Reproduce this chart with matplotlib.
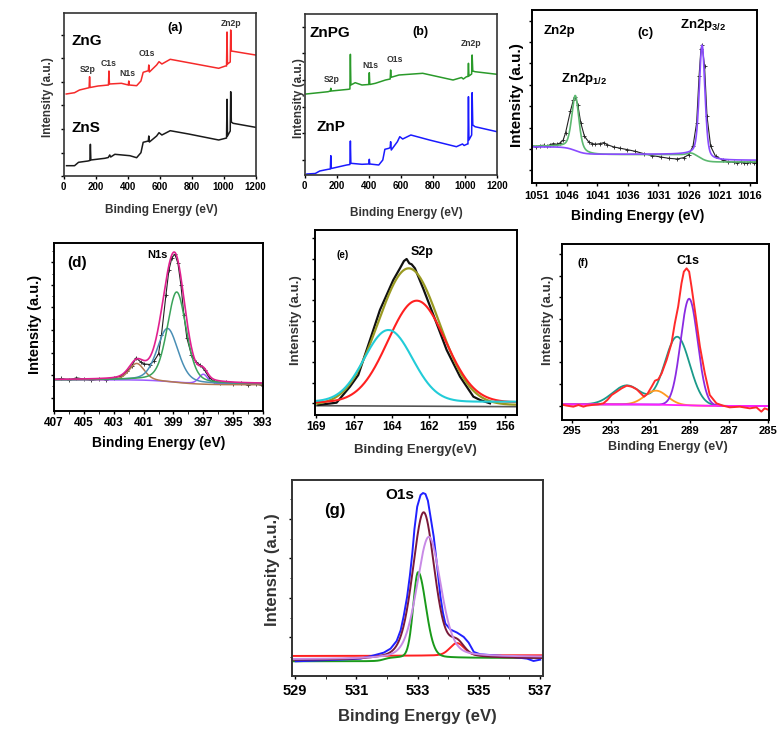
import numpy as np
import matplotlib

matplotlib.use("Agg")
import matplotlib.pyplot as plt
from matplotlib.ticker import MultipleLocator, FixedLocator, FormatStrFormatter

plt.rcParams['font.family'] = ['Liberation Sans', 'DejaVu Sans']
plt.rcParams['font.weight'] = 'bold'
plt.rcParams['mathtext.fontset'] = 'custom'
plt.rcParams['mathtext.bf'] = 'Liberation Sans:bold'
plt.rcParams['mathtext.rm'] = 'Liberation Sans:bold'

# ---------------- (a) survey ZnG / ZnS ----------------
ZNG_EV = [17, 69, 100, 160, 163, 166, 216, 281, 284, 287, 362, 405, 408, 411, 457, 484, 498,
          530, 533, 537, 582, 597, 615, 667, 782, 970, 1012, 1019, 1022, 1025, 1042, 1045,
          1049, 1075, 1200]
ZNG_I = [82, 83.3, 86, 88.3, 99.3, 88.5, 90, 91, 105, 92, 92.7, 91, 95, 91, 90.3, 95, 103.7,
         105.3, 111, 104, 111, 114.3, 112, 116.7, 113.3, 107.7, 110, 110, 144, 112, 114, 146,
         125, 124.3, 121]
ZNS_EV = [19, 69, 94, 153, 165, 168, 171, 258, 280, 289, 295, 321, 415, 457, 484, 498, 530,
          533, 537, 582, 597, 615, 667, 782, 970, 1012, 1019, 1022, 1025, 1042, 1045, 1049,
          1060, 1200]
ZNS_I = [10.3, 10.3, 13.7, 15, 15.5, 31.7, 16, 17.7, 18.5, 21, 19, 21.7, 20.3, 18.3, 23.3, 33.7,
         35, 40, 34, 40, 43.3, 41, 45.3, 42, 36, 37.7, 38, 76.7, 40, 45, 84.3, 54, 52.7, 48.7]

# ---------------- (b) survey ZnPG / ZnP ----------------
ZNPG_EV = [10, 100, 147, 161, 164, 167, 274, 283, 286, 289, 316, 358, 401, 404, 407, 442, 505,
           534, 537, 540, 589, 737, 926, 979, 990, 1010, 1019, 1022, 1025, 1042, 1045, 1049,
           1063, 1200]
ZNPG_I = [81, 82.5, 83.3, 84, 86.7, 84, 85.7, 86, 120.7, 90, 92.3, 90, 90.5, 102.3, 90.5, 91.7,
          95, 96, 105, 97.7, 100, 101.7, 95, 97.5, 96, 98.3, 98.5, 111.7, 99, 101, 120, 104,
          103.3, 100.7]
ZNP_EV = [15, 67, 95, 147, 161, 164, 167, 263, 283, 286, 289, 358, 401, 404, 407, 463, 488, 501,
          526, 534, 537, 541, 579, 594, 612, 663, 779, 947, 985, 995, 1015, 1019, 1022, 1025,
          1042, 1045, 1049, 1063, 1200]
ZNP_I = [1, 1.5, 4, 5.7, 6, 19.3, 6.5, 10, 10.5, 34, 11.7, 10.7, 11, 15.7, 11, 10, 15, 25.7,
         26.7, 27.5, 33.3, 25, 33.3, 38.3, 36, 40, 35, 28.3, 31, 29.5, 31, 31, 78.3, 35, 40,
         82.3, 50, 48.3, 43.3]

# ---------------- (c) Zn2p ----------------
C_EV = [1051.7, 1051.0, 1050.4, 1049.8, 1049.2, 1048.7, 1048.2, 1047.6, 1047.1, 1046.6, 1046.2,
        1045.4, 1044.9, 1044.6, 1044.2, 1043.7, 1043.1, 1042.4, 1041.8, 1041.3, 1040.5, 1039.9,
        1039.4, 1038.3, 1037.2, 1036.1, 1034.8, 1033.4, 1032.0, 1030.6, 1029.3, 1027.9, 1026.8,
        1026.0, 1025.3, 1024.7, 1024.3, 1024.0, 1023.8, 1023.4, 1023.0, 1022.4, 1021.6, 1020.3,
        1019.5, 1018.6, 1018.0, 1017.5, 1017.0, 1016.5, 1015.9, 1015.3, 1014.8]
C_I = [111, 109, 112, 113, 111, 115, 118, 116, 120, 128, 150, 215, 250, 258, 235, 180, 140, 123,
       118, 116, 118, 121, 115, 108, 104, 100, 95, 88, 82, 78, 74, 72, 76, 85, 110, 180, 320, 400,
       413, 350, 200, 110, 80, 68, 64, 62, 60, 63, 61, 59, 62, 60, 60]
C_CENTER = [1044.6, 1023.8]
C_HEIGHT = [160, 336]
C_FWHM = [1.37, 1.1]
C_TICKS = [1051, 1046, 1041, 1036, 1031, 1026, 1021, 1016]

# ---------------- (d) N1s ----------------
D_EV = [407.0, 406.5, 406.0, 405.5, 405.0, 404.5, 404.0, 403.5, 403.0, 402.5, 402.1, 401.8,
        401.5, 401.2, 401.0, 400.6, 400.3, 400.0, 399.8, 399.5, 399.3, 399.1, 398.9, 398.7,
        398.5, 398.3, 398.1, 397.8, 397.5, 397.2, 396.9, 396.6, 396.3, 395.9, 395.5, 395.0,
        394.5, 394.0, 393.5, 393.0]
D_I = [95, 98, 93, 100, 96, 92, 96, 94, 100, 105, 120, 135, 160, 148, 142, 140, 150, 172, 230,
       350, 425, 462, 472, 445, 380, 290, 220, 170, 148, 138, 122, 100, 90, 84, 87, 80, 83, 78,
       82, 76]
D_CENTER = [401.46, 399.39, 398.78, 397.0]   # brown, teal, green, purple
D_HEIGHT = [50, 160, 272, 28]
D_FWHM = [1.2, 1.65, 1.5, 0.7]
D_TICKS = [407, 405, 403, 401, 399, 397, 395, 393]

# ---------------- (e) S2p ----------------
E_EV = [169.04, 167.81, 166.91, 166.35, 165.56, 164.89, 163.99, 163.54, 163.27, 163.09, 162.91,
        162.75, 162.53, 161.96, 161.07, 160.39, 159.49, 158.59, 158.14, 157.47]
E_I = [30, 37, 85, 120, 225, 315, 405, 440, 462, 468, 455, 452, 440, 378, 275, 195, 115, 55, 45,
       35]
E_CENTER = [162.41, 164.32]   # red, cyan
E_HEIGHT = [305, 215]
E_FWHM = [4.56, 3.8]
E_ENV = [162.95, 410, 4.83]    # centre, height, fwhm

# ---------------- (f) C1s ----------------
F_EV = [295.42, 295.25, 294.92, 294.66, 294.41, 294.24, 293.98, 293.64, 293.39, 293.19, 292.97,
        292.71, 292.46, 292.2, 291.95, 291.69, 291.49, 291.32, 291.15, 290.93, 290.76, 290.59,
        290.42, 290.17, 289.92, 289.75, 289.58, 289.41, 289.29, 289.15, 289.02, 288.9, 288.73,
        288.47, 288.22, 287.97, 287.63, 287.29, 286.95, 286.44, 285.93, 285.59, 285.34, 285.17,
        284.95]
F_I = [45, 43, 40, 45, 40, 43, 45, 47, 50, 60, 75, 85, 95, 103, 100, 92, 80, 70, 78, 100, 118,
       122, 140, 180, 230, 290, 340, 410, 445, 455, 445, 400, 330, 220, 140, 75, 50, 43, 38, 40,
       35, 38, 25, 35, 30]
F_CENTER = [289.02, 289.63, 292.2, 290.71]   # violet, teal, teal, orange
F_HEIGHT = [320, 205, 57, 42]
F_FWHM = [1.02, 1.5, 1.7, 1.35]
F_TICKS = [295, 293, 291, 289, 287, 285]

# ---------------- (g) O1s ----------------
G_EV = [529.02, 529.62, 530.49, 531.14, 531.58, 531.9, 532.12, 532.32, 532.45, 532.55, 532.66,
        532.75, 532.83, 532.9, 532.99, 533.1, 533.18, 533.26, 533.34, 533.42, 533.53, 533.64,
        533.75, 533.83, 533.91, 534.08, 534.29, 534.51, 534.67, 534.84, 535.05, 535.49, 535.92,
        536.58, 536.79, 537.01]
G_I = [44, 46, 49, 52, 62, 70, 82, 105, 137, 180, 237, 300, 367, 440, 507, 542, 548, 545, 525,
       480, 417, 330, 237, 190, 157, 139, 130, 117, 100, 72, 65, 62, 59, 52, 45, 49]
G_CENTER = [533.37, 533.02, 534.29]   # violet, green, red
G_HEIGHT = [362, 257, 37]
G_FWHM_L = [0.92, 0.38, 0.55]
G_FWHM_R = [0.92, 0.6, 0.55]
G_ENV = [533.2, 440, 0.85]   # maroon envelope: centre, height, fwhm
G_TICKS = [529, 531, 533, 535, 537]


def peak(x, c, h, w, eta=0.0, wr=None):
    w = np.where(x > c, wr if wr is not None else w, w)
    u = (x - c) / w
    g = np.exp(-4 * np.log(2) * u ** 2)
    lo = 1 / (1 + 4 * u ** 2)
    return h * (eta * lo + (1 - eta) * g)


def step(x, c, s):
    return 1 / (1 + np.exp(-(x - c) / s))


W, H = 782, 729
fig = plt.figure(figsize=(W / 100, H / 100), dpi=100)


def make_ax(l, t, r, b, lw=1.4, color="black"):
    ax = fig.add_axes([l / W, 1 - b / H, (r - l) / W, (b - t) / H])
    for s in ax.spines.values():
        s.set_linewidth(lw)
        s.set_color(color)
    ax.tick_params(direction="out", length=2.5, width=1, labelleft=False)
    return ax


def ftext(x, y, s, size, rot=0, **kw):
    fig.text(x / W, 1 - y / H, s, ha="center", va="center", fontsize=size,
             fontweight="bold", rotation=rot, **kw)


# ---------- (a) ----------
ax = make_ax(63.5, 13, 255.5, 176, lw=1.2, color="#333333")
ax.plot(ZNG_EV, ZNG_I, color="#f52a2a", lw=1.1)
ax.plot(ZNS_EV, ZNS_I, color="#1a1a1a", lw=1.1)
ax.set_xlim(0, 1200)
ax.set_ylim(0, 163)
ax.xaxis.set_major_locator(MultipleLocator(200))
ax.yaxis.set_major_locator(FixedLocator(np.arange(0, 163, 23.5)))
ax.tick_params(axis="x", labelsize=7, pad=2)
ftext(161, 210, "Binding Energy (eV)", 8.5, color="#333333")
ftext(48, 97, "Intensity (a.u.)", 8.5, rot=90, color="#333333")
ftext(87, 41, "ZnG", 11)
ftext(86, 128, "ZnS", 11)
ftext(88, 70, "S2p", 6.2, color="#333333")
ftext(109, 63, "C1s", 6.2, color="#333333")
ftext(127, 73, "N1s", 6.2, color="#333333")
ftext(147, 53, "O1s", 6.2, color="#333333")
ftext(231, 24, "Zn2p", 6.2, color="#333333")
ftext(175, 28, "(a)", 9)

# ---------- (b) ----------
ax = make_ax(304.5, 14, 497, 175, lw=1.2, color="#333333")
ax.plot(ZNPG_EV, ZNPG_I, color="#2a9a2a", lw=1.1)
ax.plot(ZNP_EV, ZNP_I, color="#1a1aff", lw=1.1)
ax.set_xlim(0, 1200)
ax.set_ylim(0, 161)
ax.xaxis.set_major_locator(MultipleLocator(200))
ax.yaxis.set_major_locator(FixedLocator(np.arange(15, 161, 26.7)))
ax.tick_params(axis="x", labelsize=7, pad=2)
ftext(406, 213, "Binding Energy (eV)", 8.5, color="#333333")
ftext(299, 98, "Intensity (a.u.)", 8.5, rot=90, color="#333333")
ftext(330, 33, "ZnPG", 11)
ftext(331, 127, "ZnP", 11)
ftext(332, 79, "S2p", 6.2, color="#333333")
ftext(370, 66, "N1s", 6.2, color="#333333")
ftext(395, 60, "O1s", 6.2, color="#333333")
ftext(471, 43, "Zn2p", 6.2, color="#333333")
ftext(420, 32, "(b)", 9)

# ---------- (c) ----------
ax = make_ax(532, 10, 757, 183)
xc = np.linspace(1051.7, 1014.8, 700)
bg_v = 68 + 18 * step(xc, 1023.8, 0.5) + 22 * step(xc, 1044.6, 0.8)
bg_g = 63 + 22 * step(xc, 1024.0, 0.6) + 25 * step(xc, 1044.0, 0.8) + peak(xc, 1025.6, 6, 1.5)
ax.plot(C_EV, C_I, color="#222222", lw=0.8, marker="+", ms=2.5, mew=0.6)
ax.plot(xc, bg_g + peak(xc, C_CENTER[0], C_HEIGHT[0], C_FWHM[0], 0.4), color="#5cb870", lw=1.2)
ax.plot(xc, bg_v + peak(xc, C_CENTER[1], C_HEIGHT[1], C_FWHM[1], 0.4), color="#8a4bff", lw=1.2)
ax.set_xlim(1051.7, 1014.8)
ax.set_ylim(0, 518)
ax.xaxis.set_major_locator(FixedLocator(C_TICKS))
ax.yaxis.set_major_locator(FixedLocator(np.arange(38, 518, 64)))
ax.tick_params(axis="x", labelsize=8, pad=3)
ftext(638, 216, "Binding Energy (eV)", 10)
ftext(517, 95, "Intensity (a.u.)", 11, rot=90)
ftext(559, 31, "Zn2p", 9.5)
ftext(645, 33, "(c)", 9.5)
ftext(703, 25, r"Zn2p$_{\mathbf{3/2}}$", 9.5)
ftext(584, 79, r"Zn2p$_{\mathbf{1/2}}$", 9.5)

# ---------- (d) ----------
ax = make_ax(54, 243, 263, 411)
xd = np.linspace(407, 393, 700)
bg_d = 82 + 12 * step(xd, 399.2, 0.8)
comps = [peak(xd, c, h, w, 0.3) for c, h, w in zip(D_CENTER, D_HEIGHT, D_FWHM)]
ax.plot(D_EV, D_I, color="#222222", lw=0.8, marker="+", ms=2.5, mew=0.6)
ax.plot(xd, bg_d + comps[3], color="#9b59ff", lw=1.1)
ax.plot(xd, bg_d - 3 * step(-xd, -398, 1.0) + comps[0], color="#b3784f", lw=1.1)
ax.plot(xd, bg_d + comps[1], color="#4a8fb5", lw=1.1)
ax.plot(xd, bg_d + comps[2], color="#3aa35a", lw=1.1)
ax.plot(xd, bg_d + sum(comps), color="#e0208f", lw=1.2)
ax.set_xlim(407, 393)
ax.set_ylim(0, 506)
ax.xaxis.set_major_locator(FixedLocator(D_TICKS))
ax.xaxis.set_minor_locator(MultipleLocator(1))
ax.yaxis.set_major_locator(FixedLocator(np.arange(40, 506, 68)))
ax.yaxis.set_minor_locator(FixedLocator(np.arange(74, 506, 68)))
ax.tick_params(axis="x", labelsize=8.5, pad=2)
ax.tick_params(which="minor", direction="out", length=1.8)
ftext(159, 443, "Binding Energy (eV)", 10)
ftext(35, 324, "Intensity (a.u.)", 10.5, rot=90)
ftext(77, 263, "(d)", 11)
ftext(157, 255, "N1s", 8)

# ---------- (e) ----------
ax = make_ax(314.5, 230, 517, 415)
xe = np.linspace(169.3, 155.65, 700)
ax.plot([169.3, 155.65], [28, 25], color="#555555", lw=1.2)
ax.plot(E_EV, E_I, color="#111111", lw=1.6)
ax.plot(xe, 30 + peak(xe, *E_ENV), color="#9a9a22", lw=1.6)
ax.plot(xe, 38 + peak(xe, E_CENTER[0], E_HEIGHT[0], E_FWHM[0]), color="#ff2020", lw=1.5)
ax.plot(xe, 40 + peak(xe, E_CENTER[1], E_HEIGHT[1], E_FWHM[1]), color="#22ccd8", lw=1.5)
ax.set_xlim(169.3, 155.65)
ax.set_ylim(0, 555)
ax.xaxis.set_major_locator(FixedLocator(np.arange(169.2, 156, -2.55)))
ax.xaxis.set_major_formatter(FormatStrFormatter("%.0f"))
ax.yaxis.set_major_locator(FixedLocator(np.arange(35, 555, 62)))
ax.tick_params(axis="x", labelsize=8.5, pad=2)
ftext(415, 450, "Binding Energy(eV)", 9.5, color="#333333")
ftext(296, 320, "Intensity (a.u.)", 9.5, rot=90, color="#333333")
ftext(343, 255, "(e)", 7)
ftext(422, 252, "S2p", 9)

# ---------- (f) ----------
ax = make_ax(562, 244, 769, 420)
xf = np.linspace(295.5, 284.95, 700)
bg_f = 42 + 5 * step(xf, 289.5, 0.8)
fc = [peak(xf, c, h, w) for c, h, w in zip(F_CENTER, F_HEIGHT, F_FWHM)]
ax.plot(xf, bg_f + fc[1] + fc[2], color="#1a9a8a", lw=1.3)
ax.plot(xf, bg_f + fc[3], color="#ff9a20", lw=1.3)
ax.plot(xf, bg_f + fc[0], color="#8a2be2", lw=1.3)
ax.plot(xf, bg_f, color="#ff20ff", lw=1.3)
ax.plot(F_EV, F_I, color="#ff2a2a", lw=1.4)
ax.set_xlim(295.5, 284.95)
ax.set_ylim(0, 528)
ax.xaxis.set_major_locator(FixedLocator(F_TICKS))
ax.yaxis.set_major_locator(FixedLocator(np.arange(43, 528, 65)))
ax.tick_params(axis="x", labelsize=8, pad=1.5)
ftext(668, 447, "Binding Energy (eV)", 9, color="#333333")
ftext(548, 320, "Intensity (a.u.)", 9.5, rot=90, color="#333333")
ftext(583, 263, "(f)", 8)
ftext(688, 261, "C1s", 9)

# ---------- (g) ----------
ax = make_ax(292, 480, 543, 676, color="#333333")
xg = np.linspace(528.9, 537.1, 800)
gc = [peak(xg, c, h, wl, 0.3 if i == 0 else 0.15, wr)
      for i, (c, h, wl, wr) in enumerate(zip(G_CENTER, G_HEIGHT, G_FWHM_L, G_FWHM_R))]
env = peak(xg, G_ENV[0], G_ENV[1], G_ENV[2], 0.35)
ax.plot(xg, 60 + 2 * step(xg, 533, 1.0) + gc[2], color="#ff2020", lw=1.4)
ax.plot(xg, 44 + 10 * step(xg, 531.9, 0.1) + gc[1], color="#1a9a1a", lw=1.4)
ax.plot(G_EV, G_I, color="#2020ff", lw=1.4)
ax.plot(xg, 47 + 5 * step(xg, 533, 0.5) + env + gc[2], color="#7a1a3a", lw=1.4)
ax.plot(xg, 50 + 7 * step(xg, 533, 0.5) + gc[0], color="#c88ae6", lw=1.4)
ax.set_xlim(528.9, 537.1)
ax.set_ylim(0, 587)
ax.xaxis.set_major_locator(FixedLocator(G_TICKS))
ax.xaxis.set_minor_locator(MultipleLocator(1))
ax.yaxis.set_major_locator(FixedLocator(np.arange(117, 587, 118)))
ax.yaxis.set_minor_locator(FixedLocator(np.arange(57, 587, 118)))
ax.tick_params(axis="x", labelsize=10.5, pad=3)
ax.tick_params(which="minor", direction="out", length=1.8)
ftext(417, 716, "Binding Energy (eV)", 12, color="#333333")
ftext(272, 570, "Intensity (a.u.)", 12, rot=90, color="#333333")
ftext(400, 495, "O1s", 11)
ftext(335, 510, "(g)", 12)

fig.savefig("out.png", dpi=100)
